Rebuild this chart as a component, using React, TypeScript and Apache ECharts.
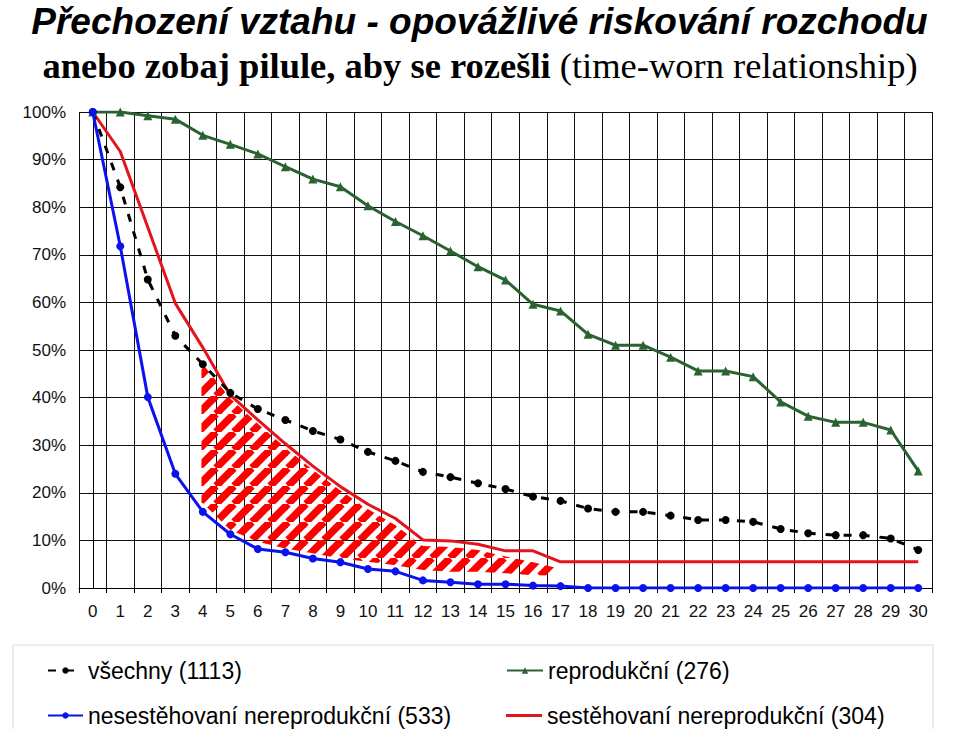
import React, { useEffect, useRef } from "react";
import * as echarts from "echarts";

const categories = ["0","1","2","3","4","5","6","7","8","9","10","11","12","13","14","15","16","17","18","19","20","21","22","23","24","25","26","27","28","29","30"];

const vsechny = [100, 84.2, 64.8, 53.0, 47.0, 41.0, 37.6, 35.3, 33.0, 31.2, 28.6, 26.7, 24.4, 23.3, 22.0, 20.8, 19.2, 18.3, 16.7, 16.0, 16.0, 15.2, 14.3, 14.3, 13.9, 12.4, 11.5, 11.1, 11.1, 10.4, 8.0];
const reprodukcni = [100, 100, 99.2, 98.5, 95.1, 93.2, 91.2, 88.5, 85.9, 84.3, 80.3, 77.0, 74.0, 70.8, 67.5, 64.7, 59.6, 58.2, 53.3, 51.0, 51.0, 48.5, 45.6, 45.6, 44.4, 39.1, 36.1, 34.8, 34.8, 33.2, 24.6];
const nesestehovani = [100, 71.8, 40.1, 24.0, 16.0, 11.3, 8.2, 7.5, 6.2, 5.4, 4.0, 3.5, 1.6, 1.2, 0.8, 0.8, 0.5, 0.4, 0, 0, 0, 0, 0, 0, 0, 0, 0, 0, 0, 0, 0];
const sestehovani = [100, 91.7, 75.8, 59.8, 50.5, 40.5, 35.3, 30.3, 25.6, 21.3, 17.6, 14.6, 10.1, 9.9, 9.2, 7.8, 7.8, 5.5, 5.5, 5.5, 5.5, 5.5, 5.5, 5.5, 5.5, 5.5, 5.5, 5.5, 5.5, 5.5, 5.5];

// hatched "risk" region
const hatchX = [3.95, 4, 5, 6, 7, 8, 9, 10, 11, 12, 13, 14, 15, 16, 16.8];
const hatchTop = [47.3, 47.0, 39.8, 34.5, 29.5, 24.8, 20.5, 16.6, 13.2, 8.8, 8.6, 8.0, 6.6, 5.4, 4.3];
const hatchBottom = [17.9, 17.8, 12.2, 9.7, 8.3, 7.3, 6.2, 5.5, 4.8, 3.8, 3.4, 3.4, 3.1, 2.7, 2.6];

const names = [
  "všechny (1113)",
  "reprodukční (276)",
  "nesestěhovaní nereprodukční (533)",
  "sestěhovaní nereprodukční (304)",
];

const SANS = "'Liberation Sans', Arial, sans-serif";
const SERIF = "'Liberation Serif', 'Times New Roman', serif";

export default function App() {
  const ref = useRef<HTMLDivElement>(null);
  useEffect(() => {
    document.body.style.margin = "0";
    const chart = echarts.init(ref.current!, null, { renderer: "svg" });

    const S = 18;
    const cv = document.createElement("canvas");
    cv.width = S;
    cv.height = S;
    const ctx = cv.getContext("2d")!;
    ctx.strokeStyle = "#ff0000";
    ctx.lineWidth = 7.5;
    for (const k of [-1, 0, 1]) {
      ctx.beginPath();
      ctx.moveTo(k * S, S);
      ctx.lineTo(k * S + S, 0);
      ctx.stroke();
    }
    const pattern: any = { image: cv, repeat: "repeat", imageWidth: S, imageHeight: S };

    const legendBase = {
      padding: 0,
      itemHeight: 8,
      textStyle: { fontSize: 23, fontFamily: SANS, color: "#000" },
      selectedMode: false,
    };

    const option: any = {
      animation: false,
      backgroundColor: "#fff",
      graphic: [
        {
          type: "text",
          x: 479.5,
          y: 21,
          style: {
            text: "Přechození vztahu - opovážlivé riskování rozchodu",
            font: `italic bold 37px ${SANS}`,
            fill: "#000",
            textAlign: "center",
            textVerticalAlign: "middle",
          },
        },
        {
          type: "text",
          x: 480,
          y: 65,
          style: {
            text: "{a|anebo zobaj pilule, aby se rozešli}{b| (time-worn relationship)}",
            textAlign: "center",
            textVerticalAlign: "middle",
            fill: "#000",
            rich: {
              a: { font: `bold 36.5px ${SERIF}`, fill: "#000" },
              b: { font: `36.5px ${SERIF}`, fill: "#000" },
            },
          },
        },
        {
          type: "rect",
          z: -1,
          shape: { x: 13, y: 645, width: 920, height: 110 },
          style: { fill: "#fff", stroke: "#dcdcdc", lineWidth: 1 },
        },
      ],
      legend: [
        { ...legendBase, data: [names[0]], left: 47, top: 659, itemWidth: 35 },
        { ...legendBase, data: [names[1]], left: 506, top: 659, itemWidth: 36 },
        { ...legendBase, data: [names[2]], left: 47, top: 704, itemWidth: 35 },
        { ...legendBase, data: [{ name: names[3], icon: "rect" }], left: 506, top: 704, itemWidth: 36, itemHeight: 3 },
      ],
      grid: { left: 79, right: 27, top: 112, bottom: 141, containLabel: false, outerBoundsMode: "none" },
      xAxis: [
        {
          type: "category",
          data: categories,
          boundaryGap: true,
          axisLine: { show: true, lineStyle: { color: "#000", width: 1 } },
          axisTick: { show: true, interval: 0, length: 5, lineStyle: { color: "#000" } },
          axisLabel: { interval: 0, fontSize: 17, fontFamily: SANS, color: "#111", margin: 15 },
          splitLine: { show: true, interval: 0, lineStyle: { color: "#111", width: 1 } },
        },
        { type: "value", min: -0.5, max: 30.5, show: false },
      ],
      yAxis: {
        type: "value",
        min: 0,
        max: 100,
        interval: 10,
        axisLine: { show: true, lineStyle: { color: "#000", width: 1 } },
        axisTick: { show: true, length: 5, lineStyle: { color: "#000" } },
        axisLabel: { formatter: "{value}%", fontSize: 17, fontFamily: SANS, color: "#111", margin: 13 },
        splitLine: { show: true, lineStyle: { color: "#111", width: 1 } },
      },
      series: [
        {
          type: "custom",
          xAxisIndex: 1,
          yAxisIndex: 0,
          silent: true,
          z: 1,
          data: [[0, 0]],
          renderItem: (_params: any, api: any) => {
            const pts: number[][] = [];
            for (let i = 0; i < hatchX.length; i++) pts.push(api.coord([hatchX[i], hatchTop[i]]));
            for (let i = hatchX.length - 1; i >= 0; i--) pts.push(api.coord([hatchX[i], hatchBottom[i]]));
            return { type: "polygon", shape: { points: pts }, style: { fill: pattern, stroke: null } };
          },
        },
        {
          name: names[3],
          type: "line",
          data: sestehovani,
          z: 3,
          showSymbol: false,
          symbol: "none",
          color: "#e3141c",
          itemStyle: { color: "#e3141c" },
          lineStyle: { color: "#e3141c", width: 3 },
        },
        {
          name: names[0],
          type: "line",
          data: vsechny,
          z: 4,
          symbol: "circle",
          symbolSize: 8,
          color: "#000",
          itemStyle: { color: "#000" },
          lineStyle: { color: "#000", width: 3, type: [8, 10] },
        },
        {
          name: names[1],
          type: "line",
          data: reprodukcni,
          z: 4,
          symbol: "triangle",
          symbolSize: 9,
          color: "#2a6331",
          itemStyle: { color: "#2a6331" },
          lineStyle: { color: "#2a6331", width: 3 },
        },
        {
          name: names[2],
          type: "line",
          data: nesestehovani,
          z: 5,
          symbol: "circle",
          symbolSize: 8,
          color: "#0a12ee",
          itemStyle: { color: "#0a12ee" },
          lineStyle: { color: "#0a12ee", width: 3 },
        },
      ],
    };
    chart.setOption(option);
    return () => chart.dispose();
  }, []);
  return <div ref={ref} style={{ width: 959, height: 729 }} />;
}
